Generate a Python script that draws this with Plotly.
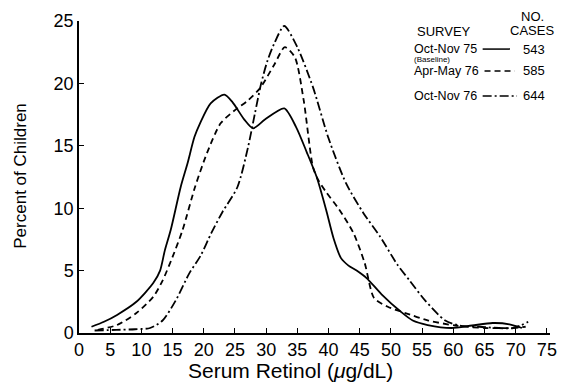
import plotly.graph_objects as go

# Data
oct75_x = [2, 4, 6.1, 9.2, 11.9, 13, 13.75, 14.7, 16.3, 17.4, 18.5, 19.4, 21.1, 23.3, 24.6, 26.5, 27.9, 29.8,
           32.9, 34.8, 36.5, 38.1, 39.6, 40.8, 42, 43.2, 44.5, 46.1, 48.5, 51.6, 53.5, 55.9, 59.7, 63, 66.3, 69, 71]
oct75_y = [0.5, 0.9, 1.45, 2.5, 4.0, 5.0, 6.6, 8.25, 11.7, 13.6, 15.7, 16.8, 18.4, 19.1, 18.5, 17.1, 16.4, 17.1,
           18.0, 16.5, 14.5, 12.5, 9.9, 7.6, 6.0, 5.4, 5.0, 4.4, 3.1, 1.7, 1.0, 0.64, 0.4, 0.6, 0.8, 0.7, 0.4]

apr76_x = [3, 6.1, 9.2, 11.9, 13.4, 15, 16.6, 18.6, 20.5, 22.7, 25.1, 27, 29, 31.3, 33, 34.6, 36, 37.5, 38.3,
           39.6, 41.7, 44, 45.8, 47.3, 49.5, 52.3, 56, 60.3, 65, 69.4, 71.6]
apr76_y = [0.25, 0.64, 1.6, 2.9, 4.2, 6.1, 8.25, 11.7, 14.4, 16.8, 17.9, 18.6, 19.6, 21.5, 22.9, 22.1, 18.7, 13.3,
           12.3, 11.3, 9.9, 8.0, 5.6, 2.8, 2.1, 1.6, 1.0, 0.6, 0.4, 0.4, 0.5]

oct76_x = [2.5, 6, 9, 11.4, 13.4, 15.5, 17.7, 19.5, 21.2, 23, 25.4, 27.1, 28.2, 29.2, 30.2, 31.3, 32.9, 35, 37.5,
           40, 42.8, 45.6, 48.3, 51, 53, 55.5, 58.7, 61, 64.2, 69.6, 72]
oct76_y = [0.2, 0.25, 0.3, 0.4, 1.0, 2.6, 4.8, 6.2, 8.0, 9.7, 11.7, 14.9, 17.6, 20.0, 21.8, 23.2, 24.6, 22.9, 19.7,
           15.6, 12.0, 9.6, 7.7, 5.5, 4.2, 2.6, 1.0, 0.6, 0.5, 0.4, 0.9]

series_names = ["Oct-Nov 75", "Apr-May 76", "Oct-Nov 76"]
series_cases = ["543", "585", "644"]
series_dash = ["solid", "6px,4px", "9px,3px,2px,3px"]
x_ticks = list(range(0, 80, 5))
y_ticks = [0, 5, 10, 15, 20, 25]

FONT = "Liberation Sans, Arial, sans-serif"

fig = go.Figure()
for xs, ys, name, dash in zip([oct75_x, apr76_x, oct76_x], [oct75_y, apr76_y, oct76_y], series_names, series_dash):
    fig.add_trace(go.Scatter(x=xs, y=ys, mode="lines", name=name,
                             line=dict(color="black", width=1.8, dash=dash, shape="spline", smoothing=0.7),
                             showlegend=False))

fig.update_layout(
    width=564, height=383,
    margin=dict(l=79, r=14, t=21, b=50),
    paper_bgcolor="white", plot_bgcolor="white",
    font=dict(family=FONT, color="black", size=18),
    xaxis=dict(range=[0, 75.5], tickvals=x_ticks, ticktext=[str(v) for v in x_ticks],
               ticks="inside", ticklen=5, tickwidth=1.2, tickcolor="black", automargin=False,
               showline=True, linecolor="black", linewidth=1.5, showgrid=False, zeroline=False,
               tickfont=dict(size=18)),
    yaxis=dict(range=[0, 25], tickvals=y_ticks, ticktext=[str(v) for v in y_ticks],
               ticks="inside", ticklen=5, tickwidth=1.2, tickcolor="black", automargin=False,
               showline=True, linecolor="black", linewidth=1.5, showgrid=False, zeroline=False,
               tickfont=dict(size=18)),
)

# Axis titles
fig.add_annotation(x=0.45, y=-0.119, xref="paper", yref="paper", text="Serum Retinol (<i>μ</i>g/dL)",
                   showarrow=False, xanchor="center", yanchor="middle", font=dict(size=21, family=FONT))
fig.add_annotation(x=-0.126, y=0.503, xref="paper", yref="paper", text="Percent of Children",
                   showarrow=False, xanchor="center", yanchor="middle", textangle=-90, font=dict(size=17, family=FONT))

# Custom legend
def ann(x, y, text, size=13, xanchor="left"):
    fig.add_annotation(x=x, y=y, xref="paper", yref="paper", text=text, showarrow=False,
                       xanchor=xanchor, yanchor="middle", font=dict(size=size, family=FONT, color="black"))

ann(0.714, 0.965, "SURVEY", 13)
ann(0.962, 1.013, "NO.", 13, "center")
ann(0.962, 0.968, "CASES", 13, "center")
rows_y = [0.910, 0.840, 0.760]
line_x = [(0.857, 0.915), (0.861, 0.925), (0.857, 0.93)]
for i, (nm, cs, dash) in enumerate(zip(series_names, series_cases, series_dash)):
    ann(0.706, rows_y[i], nm, 12.5)
    fig.add_shape(type="line", xref="paper", yref="paper", x0=line_x[i][0], x1=line_x[i][1],
                  y0=rows_y[i], y1=rows_y[i], line=dict(color="black", width=1.5, dash=dash))
    ann(0.966, rows_y[i], cs, 13, "center")
ann(0.706, 0.878, "(Baseline)", 8)

fig.write_html("out.html", config={"displayModeBar": False},
               post_script="document.body.style.margin='0';")
